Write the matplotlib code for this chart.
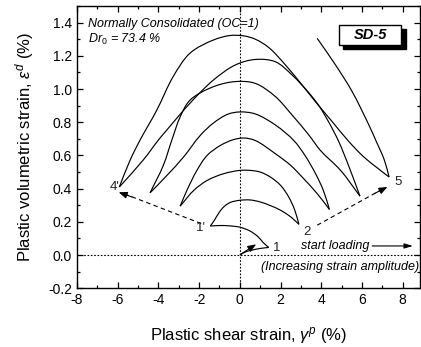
import numpy as np
import matplotlib
matplotlib.use("Agg")
import matplotlib.pyplot as plt
from matplotlib.path import Path
from matplotlib.patches import PathPatch, Rectangle
from matplotlib.ticker import MultipleLocator

plt.rcParams['font.family'] = ['Liberation Sans', 'DejaVu Sans']
plt.rcParams['axes.unicode_minus'] = False
plt.rcParams['mathtext.fontset'] = 'custom'
plt.rcParams['mathtext.it'] = 'Liberation Sans:italic'
plt.rcParams['mathtext.rm'] = 'Liberation Sans'

# ---- data: loading path segments (gamma_p %, eps_d %) ----
seg0_x = [0.0, 0.25, 0.6, 1.0, 1.42]
seg0_y = [0.0, 0.018, 0.030, 0.040, 0.046]
seg1_x = [1.42, 1.15, 0.9, 0.5, 0.0, -0.5, -1.0, -1.45]
seg1_y = [0.046, 0.075, 0.11, 0.145, 0.168, 0.176, 0.178, 0.175]
seg2_x = [-1.45, -1.25, -1.0, -0.75, -0.45, 0.0, 0.5, 1.0, 1.5, 2.0, 2.5, 2.9]
seg2_y = [0.175, 0.21, 0.26, 0.295, 0.318, 0.33, 0.332, 0.32, 0.298, 0.27, 0.23, 0.185]
seg3_x = [2.9, 2.7, 2.4, 2.0, 1.5, 1.0, 0.5, 0.0, -0.8, -1.6, -2.26, -2.93]
seg3_y = [0.185, 0.27, 0.35, 0.42, 0.47, 0.50, 0.51, 0.51, 0.49, 0.45, 0.39, 0.295]
seg4_x = [-2.93, -2.6, -2.11, -1.61, -0.96, -0.32, 0.2, 0.76, 1.75, 2.5, 3.06, 3.8, 4.4]
seg4_y = [0.295, 0.39, 0.51, 0.60, 0.66, 0.695, 0.705, 0.69, 0.61, 0.54, 0.47, 0.37, 0.275]
seg5_x = [4.4, 4.1, 3.72, 3.2, 2.65, 1.75, 0.76, 0.0, -0.6, -1.3, -1.95, -2.77, -3.58, -4.41]
seg5_y = [0.275, 0.39, 0.49, 0.60, 0.69, 0.783, 0.85, 0.862, 0.848, 0.795, 0.72, 0.59, 0.48, 0.375]
seg6_x = [-4.41, -3.76, -3.34, -2.93, -2.44, -1.3, -0.2, 0.76, 1.75, 2.57, 3.39, 3.96, 4.95, 5.9]
seg6_y = [0.375, 0.54, 0.693, 0.833, 0.934, 1.014, 1.045, 1.034, 0.954, 0.843, 0.723, 0.63, 0.51, 0.355]
seg7_x = [5.9, 5.4, 4.86, 4.37, 3.88, 3.37, 2.57, 1.75, 0.76, -0.22, -1.3, -2.44, -3.59, -4.0, -4.75, -5.92]
seg7_y = [0.355, 0.52, 0.683, 0.80, 0.90, 0.98, 1.084, 1.164, 1.178, 1.145, 1.054, 0.916, 0.753, 0.693, 0.572, 0.41]
seg8_x = [-5.92, -5.39, -4.9, -4.08, -3.28, -2.44, -1.3, -0.5, 0.2, 0.76, 1.42, 2.24, 3.06, 3.72, 4.54, 5.36, 6.08, 6.7, 7.33]
seg8_y = [0.41, 0.572, 0.693, 0.873, 1.074, 1.217, 1.295, 1.322, 1.32, 1.30, 1.25, 1.145, 1.024, 0.923, 0.803, 0.683, 0.592, 0.53, 0.47]
seg9_x = [7.33, 7.1, 6.67, 6.34, 5.52, 4.7, 3.8]
seg9_y = [0.47, 0.572, 0.693, 0.783, 0.984, 1.145, 1.305]

segments = [(seg0_x, seg0_y), (seg1_x, seg1_y), (seg2_x, seg2_y), (seg3_x, seg3_y),
            (seg4_x, seg4_y), (seg5_x, seg5_y), (seg6_x, seg6_y), (seg7_x, seg7_y),
            (seg8_x, seg8_y), (seg9_x, seg9_y)]

x_ticks = [-8, -6, -4, -2, 0, 2, 4, 6, 8]
y_ticks = [-0.2, 0.0, 0.2, 0.4, 0.6, 0.8, 1.0, 1.2, 1.4]

point_labels = ["1", "1'", "2", "4'", "5"]
point_label_x = [1.65, -1.65, 3.1, -5.9, 7.6]
point_label_y = [0.045, 0.165, 0.14, 0.41, 0.44]


def smooth_patch(ax, xs, ys, **kw):
    """Centripetal Catmull-Rom drawn as cubic Bezier path through the read points."""
    P = np.column_stack([xs, ys]).astype(float)
    sx, sy = 20.3, 166.0
    Q = P * [sx, sy]
    Q = np.vstack([2 * Q[0] - Q[1], Q, 2 * Q[-1] - Q[-2]])
    verts = [Q[1]]
    codes = [Path.MOVETO]
    for i in range(1, len(Q) - 2):
        p0, p1, p2, p3 = Q[i - 1], Q[i], Q[i + 1], Q[i + 2]
        d1 = max(np.linalg.norm(p1 - p0), 1e-6) ** 0.5
        d2 = max(np.linalg.norm(p2 - p1), 1e-6) ** 0.5
        d3 = max(np.linalg.norm(p3 - p2), 1e-6) ** 0.5
        c1 = (d1 ** 2 * p2 - d2 ** 2 * p0 + (2 * d1 ** 2 + 3 * d1 * d2 + d2 ** 2) * p1) / (3 * d1 * (d1 + d2))
        c2 = (d3 ** 2 * p1 - d2 ** 2 * p3 + (2 * d3 ** 2 + 3 * d3 * d2 + d2 ** 2) * p2) / (3 * d3 * (d3 + d2))
        verts += [c1, c2, p2]
        codes += [Path.CURVE4] * 3
    verts = np.array(verts) / [sx, sy]
    ax.add_patch(PathPatch(Path(verts, codes), fill=False, **kw))


fig = plt.figure(figsize=(4.21, 3.47), dpi=100)
ax = fig.add_axes([77 / 421, (347 - 288.3) / 347, (420 - 77) / 421, (288.3 - 6) / 347])
ax.set_xlim(-8, 8.85)
ax.set_ylim(-0.2, 1.5)

# reference dotted lines
ax.axvline(0, color='black', lw=0.8, ls=(0, (1.5, 1.5)), zorder=1)
ax.axhline(0, color='black', lw=0.8, ls=(0, (1.5, 1.5)), zorder=1)

for sx_, sy_ in segments:
    smooth_patch(ax, sx_, sy_, edgecolor='black', lw=0.85, zorder=3)

# initial loading arrow
ax.annotate('', xy=(0.8, 0.065), xytext=(0.03, 0.004),
            arrowprops=dict(arrowstyle='-|>,head_length=0.5,head_width=0.2', color='black', lw=0.8,
                            shrinkA=0, shrinkB=0))

# dashed arrows
ax.plot([-1.9, -5.6], [0.19, 0.365], color='black', lw=0.8, ls=(0, (4, 3)))
ax.annotate('', xy=(-5.95, 0.378), xytext=(-5.3, 0.35),
            arrowprops=dict(arrowstyle='-|>,head_length=0.5,head_width=0.2', color='black', lw=0.8,
                            shrinkA=0, shrinkB=0))
ax.plot([3.8, 6.9], [0.18, 0.39], color='black', lw=0.8, ls=(0, (4, 3)))
ax.annotate('', xy=(7.25, 0.41), xytext=(6.6, 0.37),
            arrowprops=dict(arrowstyle='-|>,head_length=0.5,head_width=0.2', color='black', lw=0.8,
                            shrinkA=0, shrinkB=0))

for lab, lx, ly in zip(point_labels, point_label_x, point_label_y):
    ha = 'right' if "'" in lab else 'left'
    ax.text(lx, ly, lab, fontsize=9.5, ha=ha, va='center', color='#222222')

ax.text(3.0, 0.055, 'start loading', fontsize=9, style='italic', va='center', ha='left')
ax.annotate('', xy=(8.5, 0.055), xytext=(6.5, 0.055),
            arrowprops=dict(arrowstyle='-|>,head_length=0.5,head_width=0.15', color='black', lw=0.8,
                            shrinkA=0, shrinkB=0))
ax.text(8.8, -0.07, '(Increasing strain amplitude)', fontsize=9, style='italic', va='center', ha='right')

ax.text(-7.45, 1.39, 'Normally Consolidated (OC=1)', fontsize=9, style='italic', va='center')
ax.text(-7.45, 1.30, r'Dr$_{0}$ = 73.4 %', fontsize=9, style='italic', va='center')

# SD-5 label box with shadow
bx0, by0, bw, bh = 4.87, 1.265, 3.05, 0.12
ax.add_patch(Rectangle((bx0 + 0.22, by0 - 0.025), bw, bh, facecolor='black', edgecolor='black', zorder=4))
ax.add_patch(Rectangle((bx0, by0), bw, bh, facecolor='white', edgecolor='black', lw=1.0, zorder=5))
ax.text(bx0 + bw / 2, by0 + bh / 2, 'SD-5', fontsize=10.5, fontweight='bold', style='italic',
        ha='center', va='center', zorder=6)

ax.set_xticks(x_ticks)
ax.set_yticks(y_ticks)
ax.set_yticklabels([f'{v:.1f}' for v in y_ticks])
ax.xaxis.set_minor_locator(MultipleLocator(1))
ax.yaxis.set_minor_locator(MultipleLocator(0.1))
ax.tick_params(which='both', direction='in', top=True, right=True, labelsize=10)
ax.tick_params(which='major', length=4, width=0.9)
ax.tick_params(which='minor', length=2.5, width=0.9)
for s in ax.spines.values():
    s.set_linewidth(1.0)

ax.set_xlabel(r'Plastic shear strain, $\gamma^{p}$ (%)', fontsize=12, labelpad=13)
ax.set_ylabel(r'Plastic volumetric strain, $\varepsilon^{d}$ (%)', fontsize=12, labelpad=9)

fig.savefig('out.png', dpi=100)
